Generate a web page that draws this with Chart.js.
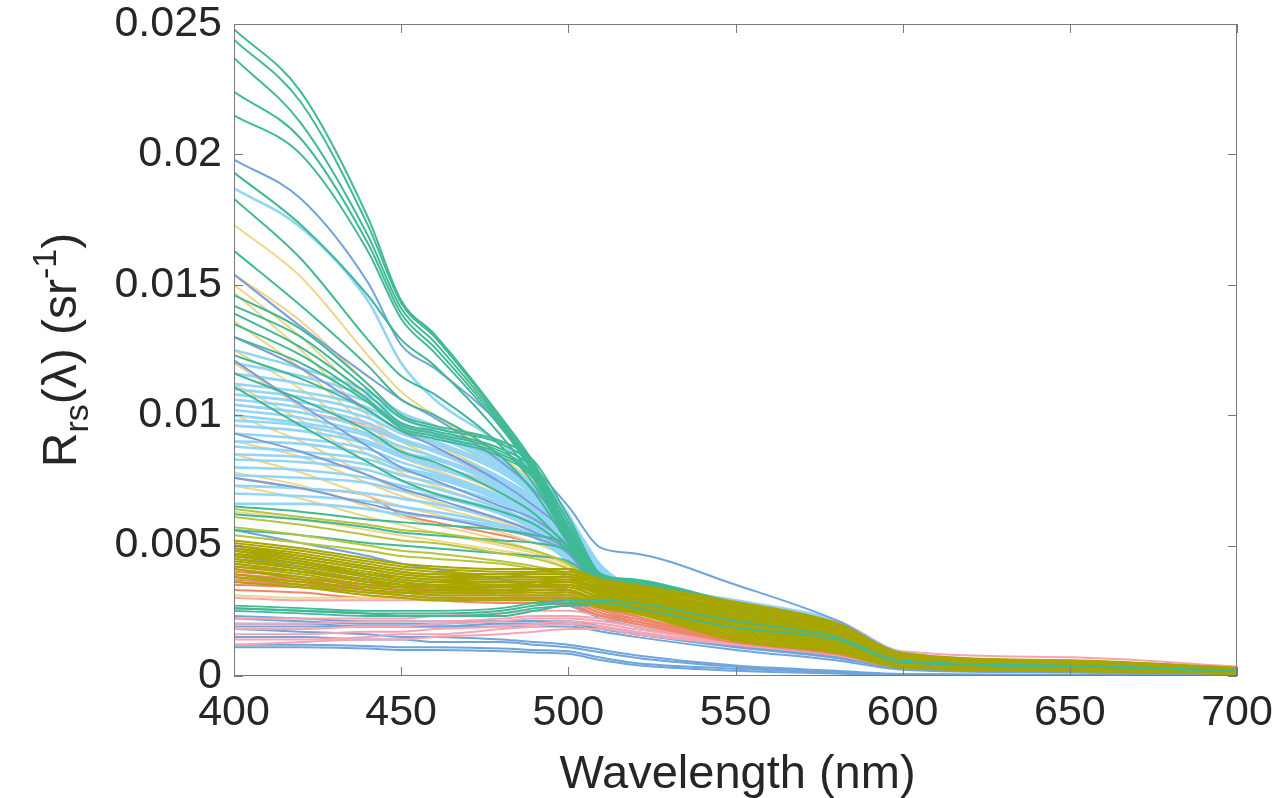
<!DOCTYPE html>
<html>
<head>
<meta charset="utf-8">
<script src="https://cdn.jsdelivr.net/npm/chart.js@4/dist/chart.umd.min.js"></script>
<style>
  html, body { margin: 0; padding: 0; background: #fff; }
  #wrap { width: 1281px; height: 798px; }
</style>
</head>
<body>
<div id="wrap"><canvas id="rrsChart" width="1281" height="798"></canvas></div>
<script>
const WAVELENGTHS = [400, 420, 440, 450, 460, 480, 490, 500, 510, 520, 550, 580, 600, 650, 700];

// Rrs values in units of 1e-3 sr^-1, one row per spectrum
const greenSpectra = [
    [24.8, 22.4, 17.6, 14.4, 13.1, 9.9, 8.1, 5.7, 3.9, 3.7, 2.8, 2.0, 0.85, 0.58, 0.3],
    [24.4, 22.0, 17.3, 14.3, 13.0, 9.8, 8.0, 5.6, 3.85, 3.65, 2.75, 1.95, 0.82, 0.56, 0.3],
    [23.7, 21.2, 16.9, 14.1, 12.8, 9.7, 7.9, 5.5, 3.8, 3.6, 2.7, 1.9, 0.8, 0.55, 0.29],
    [22.4, 20.6, 16.6, 13.9, 12.6, 9.6, 7.8, 5.4, 3.75, 3.55, 2.65, 1.85, 0.78, 0.54, 0.28],
    [21.5, 20.0, 16.3, 13.7, 12.4, 9.5, 7.7, 5.3, 3.7, 3.5, 2.6, 1.8, 0.76, 0.52, 0.27],
    [19.3, 17.3, 14.6, 12.9, 11.9, 9.2, 7.5, 5.3, 3.6, 3.3, 2.5, 1.7, 0.7, 0.48, 0.26],
    [18.3, 16.0, 12.9, 11.5, 10.8, 8.8, 7.3, 5.2, 3.6, 3.3, 2.4, 1.6, 0.7, 0.47, 0.25],
    [16.3, 14.2, 11.9, 10.6, 10.0, 8.4, 7.0, 5.1, 3.5, 3.2, 2.4, 1.5, 0.68, 0.46, 0.24],
    [14.6, 13.3, 11.2, 10.0, 9.6, 9.0, 8.2, 6.1, 3.8, 3.4, 2.4, 1.6, 0.7, 0.46, 0.25],
    [14.2, 13.0, 11.0, 9.9, 9.5, 8.9, 8.0, 5.9, 3.7, 3.3, 2.3, 1.5, 0.68, 0.45, 0.24],
    [13.9, 12.6, 10.8, 9.7, 9.4, 8.7, 7.9, 5.7, 3.6, 3.3, 2.3, 1.5, 0.66, 0.44, 0.24],
    [13.5, 12.3, 10.6, 9.6, 9.3, 8.6, 7.7, 5.5, 3.6, 3.2, 2.2, 1.5, 0.65, 0.44, 0.23],
    [13.0, 12.0, 10.5, 9.5, 9.2, 8.5, 7.6, 5.3, 3.5, 3.2, 2.2, 1.4, 0.64, 0.43, 0.23],
    [12.3, 11.4, 10.2, 9.4, 9.1, 8.4, 7.5, 5.1, 3.5, 3.1, 2.1, 1.4, 0.62, 0.42, 0.22],
    [11.6, 10.6, 9.4, 8.6, 8.2, 7.0, 6.2, 4.9, 3.4, 3.1, 2.2, 1.4, 0.62, 0.42, 0.22],
    [11.1, 9.6, 8.2, 7.5, 7.0, 6.3, 5.8, 4.8, 3.3, 3.0, 2.1, 1.4, 0.62, 0.42, 0.22],
    [6.5, 6.3, 6.0, 5.9, 5.8, 5.6, 5.4, 5.0, 3.5, 3.2, 2.4, 1.5, 0.66, 0.44, 0.23],
    [6.2, 6.0, 5.7, 5.5, 5.4, 5.2, 5.1, 4.8, 3.6, 3.3, 2.4, 1.6, 0.68, 0.45, 0.24],
    [5.6, 5.4, 5.1, 5.0, 4.9, 4.7, 4.6, 4.4, 3.5, 3.2, 2.3, 1.5, 0.65, 0.43, 0.23],
    [2.6, 2.5, 2.4, 2.4, 2.4, 2.5, 2.7, 2.8, 2.8, 2.7, 2.0, 1.45, 0.56, 0.38, 0.19],
    [2.6, 2.5, 2.4, 2.3, 2.3, 2.3, 2.5, 2.7, 2.7, 2.5, 1.7, 1.3, 0.5, 0.34, 0.17]
];

// low green spectra that show through the olive band further right
const lowGreenSpectra = [
    [2.7, 2.6, 2.5, 2.5, 2.5, 2.6, 2.8, 2.9, 2.9, 2.8, 2.1, 1.5, 0.6, 0.4, 0.2],
    [2.5, 2.4, 2.3, 2.3, 2.3, 2.4, 2.6, 2.7, 2.8, 2.6, 1.85, 1.4, 0.52, 0.36, 0.18]
];

const blueSpectra = [
    [19.8, 18.3, 15.1, 12.7, 11.8, 9.6, 8.0, 6.5, 4.9, 4.7, 3.5, 2.15, 0.88, 0.5, 0.28],
    [5.6, 5.1, 4.6, 4.3, 4.1, 3.7, 3.5, 3.3, 2.6, 2.3, 1.4, 0.85, 0.38, 0.22, 0.1],
    [4.6, 4.2, 3.8, 3.6, 3.4, 3.1, 2.9, 2.7, 2.2, 1.9, 1.2, 0.7, 0.3, 0.18, 0.08],
    [2.3, 2.2, 2.1, 2.1, 2.1, 2.1, 2.1, 2.0, 1.8, 1.6, 1.1, 0.7, 0.28, 0.15, 0.06],
    [2.2, 2.1, 2.0, 2.0, 2.0, 2.1, 2.1, 2.1, 1.9, 1.7, 1.15, 0.75, 0.3, 0.16, 0.06],
    [2.0, 2.0, 1.9, 1.9, 1.9, 1.9, 1.9, 1.9, 1.7, 1.5, 1.0, 0.6, 0.24, 0.13, 0.05],
    [1.9, 1.9, 1.9, 1.9, 1.9, 2.0, 2.0, 2.0, 1.8, 1.6, 1.2, 0.75, 0.3, 0.16, 0.06],
    [1.8, 1.7, 1.6, 1.5, 1.5, 1.4, 1.3, 1.2, 1.0, 0.8, 0.4, 0.2, 0.08, 0.05, 0.03],
    [1.5, 1.5, 1.4, 1.4, 1.3, 1.3, 1.2, 1.1, 0.9, 0.7, 0.35, 0.15, 0.06, 0.04, 0.02],
    [1.2, 1.2, 1.15, 1.1, 1.1, 1.05, 1.0, 0.95, 0.7, 0.5, 0.28, 0.12, 0.05, 0.03, 0.02],
    [1.1, 1.1, 1.05, 1.0, 1.0, 0.95, 0.9, 0.85, 0.6, 0.42, 0.2, 0.1, 0.04, 0.03, 0.02]
];

const periwinkleSpectra = [
    [15.4, 13.4, 11.5, 10.6, 9.9, 8.2, 7.1, 5.6, 3.4, 3.1, 2.2, 1.4, 0.62, 0.42, 0.22],
    [13.0, 11.8, 10.2, 9.4, 8.8, 7.4, 6.5, 5.4, 3.4, 3.1, 2.2, 1.4, 0.6, 0.4, 0.22],
    [12.1, 10.4, 8.8, 8.0, 7.5, 6.5, 6.0, 5.0, 3.3, 3.0, 2.1, 1.3, 0.6, 0.4, 0.21],
    [9.3, 8.6, 7.7, 7.2, 6.8, 6.0, 5.5, 4.8, 3.2, 2.9, 2.0, 1.3, 0.58, 0.4, 0.2],
    [7.6, 7.2, 6.6, 6.3, 6.1, 5.6, 5.3, 4.7, 3.1, 2.8, 2.0, 1.3, 0.56, 0.38, 0.2]
];

const lightBlueSpectra = [
    [18.7, 17.2, 14.4, 12.0, 10.6, 8.9, 7.8, 6.2, 3.9, 3.5, 2.9, 2.12, 0.9, 0.55, 0.28],
    [12.5, 11.8, 10.9, 10.1, 9.6, 8.3, 7.3, 6.1, 4.2, 3.4, 2.6, 1.8, 0.75, 0.48, 0.25],
    [12.0, 11.5, 10.7, 9.9, 9.4, 8.2, 7.2, 6.0, 4.1, 3.3, 2.5, 1.7, 0.72, 0.46, 0.24],
    [11.6, 11.2, 10.5, 9.7, 9.3, 8.1, 7.1, 5.9, 4.0, 3.2, 2.4, 1.6, 0.7, 0.45, 0.24],
    [11.2, 10.9, 10.3, 9.6, 9.2, 8.0, 7.1, 5.9, 4.0, 3.2, 2.4, 1.6, 0.7, 0.45, 0.24],
    [11.0, 10.7, 10.1, 9.4, 9.0, 7.9, 7.0, 5.8, 4.0, 3.2, 2.4, 1.6, 0.7, 0.45, 0.23],
    [10.8, 10.5, 9.9, 9.3, 8.9, 7.8, 6.9, 5.7, 3.9, 3.2, 2.4, 1.6, 0.7, 0.45, 0.23],
    [10.6, 10.3, 9.7, 9.1, 8.7, 7.6, 6.8, 5.6, 3.9, 3.1, 2.3, 1.6, 0.68, 0.44, 0.23],
    [10.4, 10.1, 9.5, 9.0, 8.6, 7.5, 6.7, 5.5, 3.8, 3.1, 2.3, 1.6, 0.68, 0.44, 0.22],
    [10.2, 9.9, 9.3, 8.8, 8.4, 7.4, 6.6, 5.4, 3.8, 3.1, 2.3, 1.5, 0.68, 0.44, 0.22],
    [10.0, 9.7, 9.2, 8.6, 8.3, 7.3, 6.5, 5.3, 3.7, 3.0, 2.3, 1.5, 0.66, 0.43, 0.22],
    [9.8, 9.6, 9.0, 8.5, 8.1, 7.2, 6.4, 5.2, 3.7, 3.0, 2.2, 1.5, 0.66, 0.43, 0.22],
    [9.6, 9.4, 8.9, 8.4, 8.0, 7.1, 6.3, 5.1, 3.6, 3.0, 2.2, 1.5, 0.66, 0.43, 0.22],
    [9.3, 9.1, 8.7, 8.2, 7.8, 6.9, 6.2, 5.0, 3.6, 3.0, 2.2, 1.5, 0.65, 0.42, 0.21],
    [9.0, 8.9, 8.5, 8.0, 7.7, 6.8, 6.1, 4.9, 3.5, 2.9, 2.2, 1.5, 0.65, 0.42, 0.21],
    [8.8, 8.6, 8.3, 7.9, 7.6, 6.7, 6.0, 4.9, 3.5, 2.9, 2.1, 1.4, 0.64, 0.42, 0.21],
    [8.5, 8.4, 8.1, 7.7, 7.4, 6.6, 5.9, 4.8, 3.4, 2.9, 2.1, 1.4, 0.64, 0.41, 0.21],
    [8.3, 8.2, 7.9, 7.5, 7.2, 6.4, 5.8, 4.7, 3.4, 2.9, 2.1, 1.4, 0.63, 0.41, 0.2],
    [8.0, 7.9, 7.6, 7.3, 7.0, 6.3, 5.7, 4.7, 3.4, 2.8, 2.1, 1.4, 0.62, 0.41, 0.2],
    [7.7, 7.6, 7.4, 7.1, 6.9, 6.2, 5.6, 4.6, 3.3, 2.8, 2.0, 1.4, 0.62, 0.4, 0.2],
    [7.3, 7.2, 7.0, 6.8, 6.6, 6.0, 5.5, 4.5, 3.3, 2.8, 2.0, 1.3, 0.6, 0.4, 0.2],
    [7.0, 6.9, 6.7, 6.5, 6.3, 5.8, 5.4, 4.5, 3.3, 2.8, 2.0, 1.3, 0.6, 0.4, 0.19],
    [6.6, 6.6, 6.4, 6.2, 6.1, 5.7, 5.3, 4.4, 3.2, 2.7, 2.0, 1.3, 0.6, 0.39, 0.19]
];

const yellowSpectra = [
    [17.3, 15.3, 12.3, 10.9, 10.0, 8.4, 7.4, 5.9, 3.9, 3.2, 2.4, 1.6, 0.68, 0.45, 0.24],
    [15.4, 13.6, 11.2, 10.0, 9.3, 7.9, 7.0, 5.7, 3.8, 3.2, 2.3, 1.5, 0.66, 0.44, 0.23],
    [15.0, 13.0, 10.6, 9.5, 8.9, 7.6, 6.8, 5.5, 3.7, 3.1, 2.3, 1.5, 0.65, 0.43, 0.23],
    [14.7, 12.5, 10.0, 9.0, 8.4, 7.2, 6.4, 5.3, 3.6, 3.0, 2.2, 1.5, 0.64, 0.43, 0.22],
    [13.6, 11.8, 9.6, 8.7, 8.1, 7.0, 6.3, 5.3, 3.6, 3.0, 2.2, 1.4, 0.63, 0.42, 0.22],
    [12.5, 11.0, 9.2, 8.4, 7.9, 6.9, 6.2, 5.2, 3.6, 3.0, 2.2, 1.4, 0.63, 0.42, 0.22],
    [12.0, 10.3, 8.5, 7.8, 7.3, 6.4, 5.8, 5.0, 3.5, 2.9, 2.1, 1.4, 0.62, 0.42, 0.21],
    [11.2, 9.8, 8.2, 7.5, 7.0, 6.2, 5.6, 4.9, 3.5, 2.9, 2.1, 1.4, 0.62, 0.41, 0.21],
    [10.0, 9.0, 7.7, 7.1, 6.7, 5.9, 5.4, 4.7, 3.4, 2.8, 2.0, 1.3, 0.6, 0.4, 0.2],
    [9.0, 8.4, 7.4, 6.9, 6.5, 5.8, 5.3, 4.6, 3.3, 2.7, 1.9, 1.3, 0.58, 0.39, 0.2],
    [8.5, 7.8, 6.9, 6.5, 6.2, 5.5, 5.1, 4.5, 3.2, 2.6, 1.8, 1.2, 0.56, 0.38, 0.19],
    [7.8, 7.3, 6.5, 6.1, 5.8, 5.2, 4.8, 4.3, 3.1, 2.5, 1.7, 1.1, 0.54, 0.37, 0.19],
    [7.3, 6.8, 6.1, 5.8, 5.5, 5.0, 4.7, 4.2, 3.0, 2.4, 1.6, 1.0, 0.5, 0.34, 0.18],
    [6.3, 6.0, 5.6, 5.4, 5.2, 4.8, 4.6, 4.1, 3.0, 2.4, 1.6, 1.0, 0.48, 0.32, 0.18],
    [3.1, 3.0, 3.0, 3.0, 3.0, 3.1, 3.1, 3.1, 2.8, 2.5, 1.5, 1.0, 0.42, 0.3, 0.16]
];

const oliveSpectra = [
    [5.2, 4.9, 4.5, 4.3, 4.2, 4.1, 4.1, 4.1, 3.70, 3.50, 2.85, 2.05, 0.88, 0.60, 0.32],
    [5.1, 4.8, 4.4, 4.2, 4.1, 4.0, 4.0, 4.0, 3.65, 3.45, 2.78, 2.00, 0.85, 0.58, 0.31],
    [5.0, 4.7, 4.3, 4.1, 4.0, 3.9, 3.9, 3.9, 3.60, 3.40, 2.71, 1.95, 0.83, 0.56, 0.30],
    [5.0, 4.6, 4.2, 4.0, 3.9, 3.9, 4.0, 4.1, 3.55, 3.35, 2.65, 1.89, 0.80, 0.54, 0.29],
    [4.9, 4.6, 4.2, 4.0, 3.9, 3.8, 3.8, 3.8, 3.50, 3.30, 2.58, 1.84, 0.78, 0.52, 0.28],
    [4.9, 4.5, 4.1, 3.9, 3.8, 3.8, 3.9, 3.9, 3.45, 3.25, 2.51, 1.79, 0.75, 0.50, 0.27],
    [4.8, 4.5, 4.1, 3.9, 3.8, 3.7, 3.7, 3.7, 3.40, 3.20, 2.44, 1.74, 0.73, 0.49, 0.25],
    [4.8, 4.4, 4.0, 3.8, 3.7, 3.6, 3.6, 3.6, 3.35, 3.15, 2.37, 1.68, 0.70, 0.47, 0.24],
    [4.7, 4.4, 3.9, 3.7, 3.6, 3.6, 3.6, 3.6, 3.30, 3.10, 2.30, 1.63, 0.68, 0.45, 0.23],
    [4.7, 4.3, 3.9, 3.8, 3.7, 3.7, 3.7, 3.8, 3.25, 3.05, 2.24, 1.58, 0.65, 0.43, 0.22],
    [4.6, 4.3, 3.9, 3.7, 3.6, 3.5, 3.5, 3.5, 3.20, 3.00, 2.17, 1.53, 0.63, 0.41, 0.21],
    [4.6, 4.3, 3.8, 3.6, 3.5, 3.5, 3.6, 3.7, 3.15, 2.95, 2.10, 1.48, 0.60, 0.39, 0.20],
    [4.5, 4.2, 3.8, 3.6, 3.5, 3.5, 3.5, 3.5, 3.10, 2.90, 2.03, 1.42, 0.57, 0.37, 0.19],
    [4.5, 4.1, 3.6, 3.5, 3.4, 3.4, 3.5, 3.6, 3.05, 2.85, 1.96, 1.37, 0.55, 0.35, 0.18],
    [4.4, 4.1, 3.7, 3.5, 3.4, 3.4, 3.4, 3.4, 3.00, 2.80, 1.90, 1.32, 0.52, 0.33, 0.17],
    [4.3, 4.0, 3.6, 3.4, 3.4, 3.3, 3.4, 3.4, 2.95, 2.75, 1.83, 1.27, 0.50, 0.31, 0.16],
    [4.3, 4.0, 3.6, 3.5, 3.4, 3.4, 3.4, 3.5, 2.90, 2.70, 1.76, 1.21, 0.47, 0.29, 0.15],
    [4.2, 3.9, 3.5, 3.4, 3.3, 3.3, 3.3, 3.3, 2.85, 2.65, 1.69, 1.16, 0.45, 0.28, 0.13],
    [4.1, 3.8, 3.4, 3.3, 3.2, 3.2, 3.3, 3.3, 2.80, 2.60, 1.62, 1.11, 0.42, 0.26, 0.12],
    [4.1, 3.7, 3.3, 3.2, 3.2, 3.2, 3.2, 3.2, 2.75, 2.55, 1.55, 1.06, 0.40, 0.24, 0.11],
    [3.9, 3.6, 3.3, 3.2, 3.1, 3.1, 3.1, 3.1, 2.70, 2.50, 1.49, 1.00, 0.37, 0.22, 0.10],
    [3.8, 3.5, 3.2, 3.1, 3.0, 3.0, 3.0, 3.0, 2.65, 2.45, 1.42, 0.95, 0.35, 0.20, 0.09],
    [3.6, 3.4, 3.1, 3.0, 2.9, 2.9, 2.9, 2.9, 2.60, 2.40, 1.35, 0.90, 0.32, 0.18, 0.08]
];

const lightOliveSpectra = [
    [6.4, 6.1, 5.8, 5.6, 5.5, 5.1, 4.8, 4.3, 3.4, 3.0, 2.1, 1.4, 0.55, 0.36, 0.2],
    [6.1, 5.8, 5.4, 5.2, 5.1, 4.7, 4.5, 4.1, 3.3, 2.9, 2.0, 1.3, 0.52, 0.34, 0.19],
    [5.7, 5.4, 5.0, 4.8, 4.7, 4.4, 4.2, 3.9, 3.2, 2.8, 1.9, 1.25, 0.5, 0.33, 0.18],
    [5.4, 5.1, 4.8, 4.6, 4.5, 4.3, 4.1, 3.8, 3.1, 2.6, 1.7, 1.15, 0.46, 0.3, 0.17]
];

const salmonSpectra = [
    [7.6, 7.2, 6.9, 6.2, 5.9, 5.4, 5.1, 4.6, 3.2, 2.7, 1.8, 1.2, 0.5, 0.34, 0.2],
    [4.2, 4.0, 3.7, 3.5, 3.4, 3.3, 3.2, 3.1, 2.6, 2.3, 1.45, 0.95, 0.4, 0.28, 0.16],
    [4.0, 3.8, 3.5, 3.4, 3.3, 3.2, 3.1, 3.0, 2.5, 2.2, 1.4, 0.92, 0.38, 0.26, 0.15],
    [3.9, 3.7, 3.5, 3.4, 3.4, 3.4, 3.4, 3.3, 2.7, 2.4, 1.5, 0.98, 0.42, 0.29, 0.16],
    [3.8, 3.6, 3.4, 3.3, 3.2, 3.1, 3.0, 2.9, 2.4, 2.2, 1.38, 0.9, 0.37, 0.25, 0.15],
    [3.7, 3.5, 3.3, 3.2, 3.1, 3.0, 3.0, 2.9, 2.4, 2.1, 1.33, 0.88, 0.36, 0.24, 0.14],
    [3.6, 3.5, 3.4, 3.3, 3.3, 3.3, 3.3, 3.2, 2.6, 2.3, 1.42, 0.95, 0.4, 0.27, 0.15],
    [3.5, 3.4, 3.2, 3.1, 3.0, 2.9, 2.9, 2.8, 2.3, 2.1, 1.3, 0.86, 0.35, 0.23, 0.14],
    [3.3, 3.2, 3.0, 3.0, 2.9, 2.8, 2.8, 2.7, 2.3, 2.0, 1.28, 0.84, 0.34, 0.22, 0.13]
];

const pinkSpectra = [
    [10.4, 10.1, 9.6, 9.0, 8.6, 7.4, 6.6, 5.4, 3.6, 3.0, 2.2, 1.5, 0.7, 0.45, 0.24],
    [3.0, 2.9, 2.9, 2.9, 2.9, 3.0, 3.1, 3.1, 3.0, 2.9, 2.7, 2.15, 0.95, 0.72, 0.36],
    [2.2, 2.2, 2.2, 2.2, 2.3, 2.4, 2.5, 2.5, 2.3, 2.1, 1.35, 0.95, 0.45, 0.3, 0.17],
    [2.0, 2.0, 2.1, 2.1, 2.1, 2.2, 2.3, 2.3, 2.2, 2.0, 1.3, 0.9, 0.42, 0.28, 0.16],
    [1.8, 1.8, 1.9, 1.9, 2.0, 2.1, 2.2, 2.2, 2.1, 1.9, 1.28, 0.88, 0.4, 0.27, 0.15],
    [1.6, 1.6, 1.7, 1.7, 1.8, 1.9, 2.0, 2.1, 2.0, 1.8, 1.25, 0.85, 0.38, 0.26, 0.15],
    [1.4, 1.4, 1.5, 1.6, 1.6, 1.8, 1.9, 2.0, 1.9, 1.7, 1.22, 0.82, 0.36, 0.25, 0.14],
    [1.2, 1.3, 1.4, 1.4, 1.5, 1.6, 1.7, 1.8, 1.8, 1.6, 1.2, 0.8, 0.34, 0.24, 0.14]
];

const X_TICKS = [400, 450, 500, 550, 600, 650, 700];
const Y_TICKS = [0, 5, 10, 15, 20, 25];
const Y_TICK_LABELS = ['0', '0.005', '0.01', '0.015', '0.02', '0.025'];

// painting order, bottom layer first
const groups = [
    { rows: blueSpectra.slice(1), color: '#6fa5dc', width: 2 },
    { rows: pinkSpectra, color: '#f6a4b4', width: 2 },
    { rows: salmonSpectra, color: '#ee8669', width: 2 },
    { rows: yellowSpectra, color: '#eed68a', width: 2 },
    { rows: lightBlueSpectra, color: '#92d5f6', width: 2.6 },
    { rows: periwinkleSpectra, color: '#7e9dd7', width: 2 },
    { rows: blueSpectra.slice(0, 1), color: '#6fa5dc', width: 2 },
    { rows: greenSpectra, color: '#41b996', width: 2 },
    { rows: lightOliveSpectra, color: '#b6c53c', width: 2 },
    { rows: oliveSpectra, color: '#a9a600', width: 2 },
    { rows: lowGreenSpectra, color: '#41b996', width: 1.8 }
];

const FONT = 'Liberation Sans, Arial, Helvetica, sans-serif';
const TEXT_COLOR = '#262626';
const AXIS_COLOR = '#7a7a7a';
// where the plot box sits in the reference picture
const PLOT_BOX = { left: 234, top: 24, right: 1237, bottom: 676 };

const datasets = [];
groups.forEach(g => {
    g.rows.forEach(row => {
        datasets.push({
            data: row.map((v, i) => ({ x: WAVELENGTHS[i], y: v })),
            borderColor: g.color,
            borderWidth: g.width,
            pointRadius: 0,
            fill: false,
            cubicInterpolationMode: 'monotone',
            borderJoinStyle: 'round'
        });
    });
});
// Chart.js paints dataset 0 last (on top), so flip the list
datasets.reverse();

// box round the axes, inward tick marks and the axis titles
const axesBox = {
    id: 'axesBox',
    afterDatasetsDraw(chart) {
        const { ctx, chartArea, scales } = chart;
        const { left, right, top, bottom } = chartArea;
        const len = 9;
        ctx.save();
        ctx.strokeStyle = AXIS_COLOR;
        ctx.lineWidth = 1;
        ctx.strokeRect(left + 0.5, top + 0.5, right - left - 1, bottom - top - 1);
        ctx.beginPath();
        X_TICKS.forEach(t => {
            const px = Math.round(scales.x.getPixelForValue(t)) + 0.5;
            ctx.moveTo(px, bottom); ctx.lineTo(px, bottom - len);
            ctx.moveTo(px, top); ctx.lineTo(px, top + len);
        });
        Y_TICKS.forEach(t => {
            const py = Math.round(scales.y.getPixelForValue(t)) + 0.5;
            ctx.moveTo(left, py); ctx.lineTo(left + len, py);
            ctx.moveTo(right, py); ctx.lineTo(right - len, py);
        });
        ctx.stroke();
        ctx.restore();
    },
    afterDraw(chart) {
        const { ctx, chartArea } = chart;
        ctx.save();
        ctx.fillStyle = TEXT_COLOR;

        ctx.font = '47px ' + FONT;
        ctx.textAlign = 'center';
        ctx.textBaseline = 'alphabetic';
        ctx.fillText('Wavelength (nm)', (chartArea.left + chartArea.right) / 2 + 2, 788);

        // R_rs(λ) (sr^-1), drawn piece by piece for the sub- and superscript
        const big = '48px ' + FONT;
        const small = '34px ' + FONT;
        const parts = [
            { t: 'R', f: big, dy: 0 },
            { t: 'rs', f: small, dy: 12 },
            { t: '(λ) (sr', f: big, dy: 0 },
            { t: '-1', f: small, dy: -20 },
            { t: ')', f: big, dy: 0 }
        ];
        let total = 0;
        parts.forEach(p => { ctx.font = p.f; p.w = ctx.measureText(p.t).width; total += p.w; });
        ctx.translate(76, (chartArea.top + chartArea.bottom) / 2);
        ctx.rotate(-Math.PI / 2);
        ctx.textAlign = 'left';
        let x = -total / 2;
        parts.forEach(p => {
            ctx.font = p.f;
            ctx.fillText(p.t, x, p.dy);
            x += p.w;
        });
        ctx.restore();
    }
};

new Chart(document.getElementById('rrsChart'), {
    type: 'line',
    data: { datasets: datasets },
    plugins: [axesBox],
    options: {
        responsive: false,
        animation: false,
        events: [],
        layout: { padding: { left: 0, right: 1281 - PLOT_BOX.right, top: PLOT_BOX.top, bottom: 0 } },
        plugins: {
            legend: { display: false },
            tooltip: { enabled: false }
        },
        scales: {
            x: {
                type: 'linear',
                min: 400,
                max: 700,
                afterFit: s => {
                    s.height = 798 - PLOT_BOX.bottom;
                    s.paddingLeft = 0;
                    s.paddingRight = 0;
                },
                afterBuildTicks: s => { s.ticks = X_TICKS.map(v => ({ value: v })); },
                grid: { display: false, drawTicks: false },
                border: { display: false },
                ticks: {
                    padding: 16,
                    maxRotation: 0,
                    color: TEXT_COLOR,
                    font: { family: FONT, size: 43, lineHeight: 1 }
                }
            },
            y: {
                type: 'linear',
                min: 0,
                max: 25,
                afterFit: s => {
                    s.width = PLOT_BOX.left;
                    s.paddingTop = 0;
                    s.paddingBottom = 0;
                },
                afterBuildTicks: s => { s.ticks = Y_TICKS.map(v => ({ value: v })); },
                grid: { display: false, drawTicks: false },
                border: { display: false },
                ticks: {
                    padding: 12,
                    color: TEXT_COLOR,
                    font: { family: FONT, size: 43 },
                    callback: v => Y_TICK_LABELS[Y_TICKS.indexOf(v)]
                }
            }
        }
    }
});
</script>
</body>
</html>
